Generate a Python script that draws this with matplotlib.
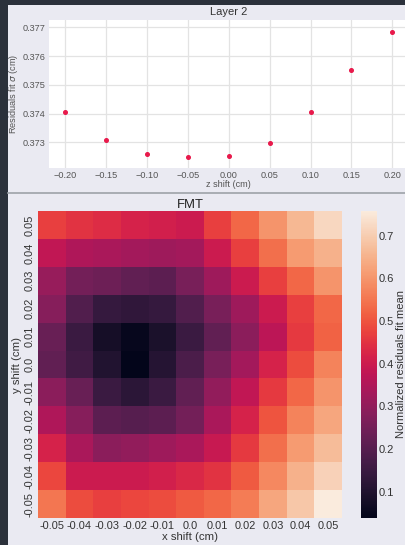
import numpy as np
import matplotlib
matplotlib.use("Agg")
import matplotlib.pyplot as plt
import seaborn as sns
from matplotlib.patches import Rectangle
from matplotlib.lines import Line2D

# ---- data ----
z_shift = [-0.20, -0.15, -0.10, -0.05, 0.00, 0.05, 0.10, 0.15, 0.20]
sigma = [0.37407, 0.37309, 0.37261, 0.37250, 0.37254, 0.37297, 0.37407, 0.37550, 0.37685]

x_labels = ["-0.05", "-0.04", "-0.03", "-0.02", "-0.01", "0.0", "0.01", "0.02", "0.03", "0.04", "0.05"]
y_labels = ["0.05", "0.04", "0.03", "0.02", "0.01", "0.0", "-0.01", "-0.02", "-0.03", "-0.04", "-0.05"]
row_005 = [0.47, 0.45, 0.44, 0.42, 0.41, 0.40, 0.47, 0.53, 0.60, 0.66, 0.72]
row_004 = [0.38, 0.35, 0.34, 0.33, 0.32, 0.33, 0.40, 0.47, 0.54, 0.61, 0.65]
row_003 = [0.31, 0.25, 0.24, 0.22, 0.21, 0.26, 0.32, 0.40, 0.47, 0.53, 0.60]
row_002 = [0.28, 0.19, 0.14, 0.13, 0.14, 0.19, 0.26, 0.32, 0.40, 0.47, 0.53]
row_001 = [0.23, 0.15, 0.08, 0.05, 0.09, 0.15, 0.22, 0.29, 0.37, 0.46, 0.52]
row_000 = [0.22, 0.16, 0.10, 0.038, 0.11, 0.18, 0.26, 0.33, 0.42, 0.49, 0.57]
row_m001 = [0.29, 0.23, 0.15, 0.12, 0.15, 0.22, 0.30, 0.38, 0.46, 0.53, 0.60]
row_m002 = [0.35, 0.28, 0.21, 0.20, 0.21, 0.25, 0.34, 0.42, 0.50, 0.57, 0.63]
row_m003 = [0.42, 0.34, 0.29, 0.30, 0.32, 0.34, 0.39, 0.46, 0.54, 0.61, 0.67]
row_m004 = [0.48, 0.40, 0.40, 0.40, 0.41, 0.43, 0.45, 0.51, 0.58, 0.65, 0.71]
row_m005 = [0.55, 0.49, 0.47, 0.48, 0.49, 0.51, 0.53, 0.56, 0.63, 0.69, 0.758]
grid = np.array([row_005, row_004, row_003, row_002, row_001, row_000,
                 row_m001, row_m002, row_m003, row_m004, row_m005])

# ---- style ----
plt.rcParams['font.family'] = ['Liberation Sans', 'DejaVu Sans']
plt.rcParams['axes.unicode_minus'] = True
BG = '#eaeaf2'
TXT = '#555555'
DTXT = '#333333'

W, H = 405, 545
fig = plt.figure(figsize=(W / 100, H / 100), dpi=100, facecolor='#2b313b')
fig.patches.append(Rectangle((8 / W, 0), 1 - 8 / W, 1 - 5 / H, transform=fig.transFigure,
                             facecolor=BG, edgecolor='none', zorder=-10))
fig.lines.append(Line2D([8 / W, 1], [1 - 193 / H, 1 - 193 / H], transform=fig.transFigure,
                        color='#9ea2a8', lw=1.2))

# ---- top scatter ----
ax1 = fig.add_axes([49 / W, 1 - 168 / H, (408.6 - 49) / W, (168 - 19.5) / H])
ax1.set_facecolor('white')
ax1.plot(z_shift, sigma, ls='none', marker='o', ms=2.6, color='#e8194b', mec='#e8194b')
ax1.set_xlim(-0.22, 0.22)
ax1.set_ylim(0.37211, 0.37727)
ax1.set_xticks([-0.20, -0.15, -0.10, -0.05, 0.00, 0.05, 0.10, 0.15, 0.20])
ax1.set_yticks([0.373, 0.374, 0.375, 0.376, 0.377])
ax1.grid(True, color='#e3e3e3', lw=0.9)
ax1.set_axisbelow(True)
for s in ax1.spines.values():
    s.set_visible(False)
ax1.tick_params(length=0, labelsize=6.6, colors=TXT, pad=2.5)
ax1.set_title("Layer 2", fontsize=8, color=DTXT, pad=3)
ax1.set_xlabel("z shift (cm)", fontsize=6.6, color=TXT)
ax1.set_ylabel(r"Residuals fit $\sigma$ (cm)", fontsize=6.6, color=TXT)
ax1.xaxis.set_label_coords(0.4997, -0.084)
ax1.yaxis.set_label_coords(-0.081, 0.5)

# ---- heatmap ----
ax2 = fig.add_axes([38 / W, 1 - 518 / H, (342 - 38) / W, (518 - 211) / H])
cax = fig.add_axes([361 / W, 1 - 518 / H, 16 / W, (518 - 211) / H])
cmap = sns.color_palette("rocket", as_cmap=True)
sns.heatmap(grid, ax=ax2, cbar_ax=cax, cmap=cmap, xticklabels=x_labels, yticklabels=y_labels,
            cbar_kws={'label': 'Normalized residuals fit mean'})
ax2.set_title("FMT", fontsize=9.4, color='#222222', pad=2)
ax2.set_xlabel("x shift (cm)", fontsize=8.2, color=DTXT)
ax2.set_ylabel("y shift (cm)", fontsize=8.2, color=DTXT)
ax2.xaxis.set_label_coords(0.5, -0.047)
ax2.yaxis.set_label_coords(-0.051, 0.498)
ax2.tick_params(length=0, labelsize=7.9, colors=DTXT, pad=2.5)
plt.setp(ax2.get_yticklabels(), rotation=90, va='center')
plt.setp(ax2.get_xticklabels(), rotation=0)
cax.tick_params(length=0, labelsize=8, colors=DTXT, pad=1.5)
cax.set_yticks([0.1, 0.2, 0.3, 0.4, 0.5, 0.6, 0.7])
cax.yaxis.label.set_size(8.1)
cax.yaxis.label.set_color(DTXT)
cax.yaxis.set_label_coords(2.17, 0.5)
for s in cax.spines.values():
    s.set_visible(False)

fig.savefig("out.png", dpi=100, facecolor=fig.get_facecolor())
